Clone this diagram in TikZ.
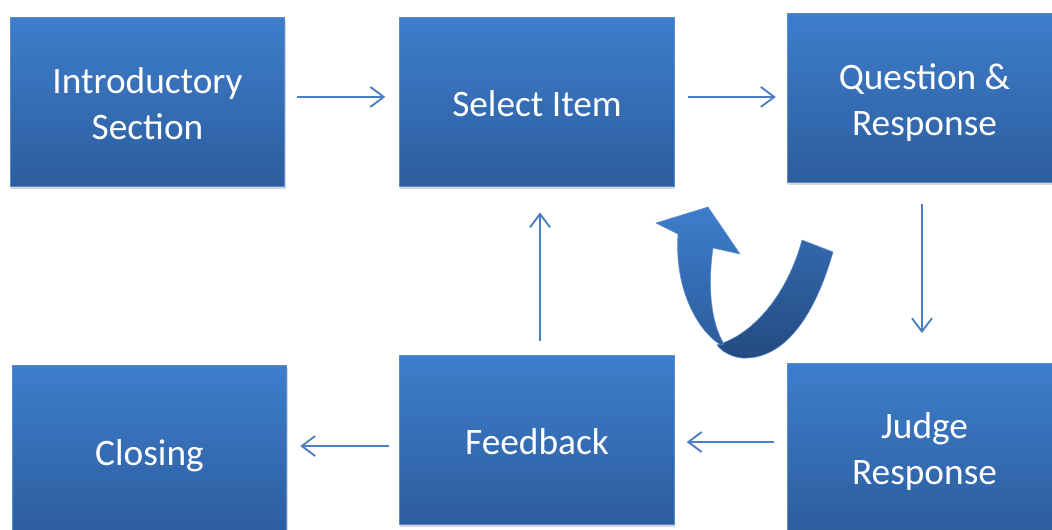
\documentclass[tikz,border=0pt]{standalone}
\usepackage{fontspec}
\setmainfont{Carlito}
\usetikzlibrary{arrows.meta,shadows}
\definecolor{boxtop}{RGB}{61,126,204}
\definecolor{boxbot}{RGB}{45,93,157}
\definecolor{boxline}{RGB}{90,140,205}
\definecolor{arrowc}{RGB}{74,126,193}
\definecolor{backtop}{RGB}{50,104,172}
\definecolor{backbot}{RGB}{36,74,128}
\tikzset{
  box/.style={rectangle, top color=boxtop, bottom color=boxbot, draw=boxline, line width=0.6pt,
    minimum width=206pt, minimum height=126.75pt, inner sep=0pt,
    drop shadow={opacity=0.3, shadow xshift=0.6pt, shadow yshift=-2pt}},
  boxtext/.style={align=center, text=white, inner sep=0pt,
    font=\fontsize{28}{34.5}\selectfont},
  flow/.style={draw=arrowc, line width=1.4pt, -{Straight Barb[length=10pt,width=15pt,line width=1.4pt]}}
}
\begin{document}
\begin{tikzpicture}[x=0.75pt,y=-0.75pt]
\clip (0,0) rectangle (1052,529);
\fill[white] (0,0) rectangle (1052,529);
\node[box, label={[boxtext, yshift=-1.5pt]center:{Introductory\\Section}}] (intro) at (147.5,101.5) {};
\node[box, label={[boxtext, yshift=-1.5pt]center:{Select Item}}] (select) at (537,101.5) {};
\node[box, label={[boxtext, yshift=-3.8pt]center:{Question \&\\Response}}] (qr) at (924.5,97.5) {};
\node[box, label={[boxtext, yshift=-4.5pt]center:{Closing}}] (closing) at (149.5,450) {};
\node[box, label={[boxtext, yshift=-1pt]center:{Feedback}}] (feedback) at (537,440) {};
\node[box, label={[boxtext, yshift=-3pt]center:{Judge\\Response}}] (judge) at (924.5,448) {};
% connectors
\draw[flow, shorten <=9pt, shorten >=10.5pt] ([yshift=3.4pt]intro.east) -- ([yshift=3.4pt]select.west);
\draw[flow, shorten <=9.75pt, shorten >=8.25pt] ([yshift=0.4pt]select.east |- qr.west) -- ([yshift=0.4pt]qr.west);
\draw[flow, shorten <=16.5pt, shorten >=22.5pt] ([xshift=-1.9pt]qr.south) -- ([xshift=-1.9pt]judge.north);
\draw[flow, shorten <=9.75pt, shorten >=9pt] ([yshift=-1.5pt]feedback.east -| judge.west) -- ([yshift=-1.5pt]feedback.east);
\draw[flow, shorten <=10.5pt, shorten >=19.5pt] ([xshift=2.25pt]feedback.north) -- ([xshift=2.25pt]select.south);
\draw[flow, shorten <=7.5pt, shorten >=9.75pt] ([yshift=-4.5pt]feedback.west) -- ([yshift=-4.5pt]feedback.west -| closing.east);
% curved U-turn arrow
\shade[top color=backtop, bottom color=backbot, draw=boxline, line width=0.4pt]
  (802,240) -- (833,252) .. controls (815,315) and (785,360) .. (742,358)
  .. controls (732,357) and (722,352) .. (717,345)
  .. controls (760,332) and (790,285) .. cycle;
\shade[top color=boxtop, bottom color=boxbot, draw=boxline, line width=0.4pt]
  (721,345) .. controls (700,333) and (674,292) .. (678,234)
  -- (656,223) -- (708,207) -- (740,254) -- (713,248)
  .. controls (707,290) and (712,325) .. (724,344) -- cycle;
\end{tikzpicture}
\end{document}
